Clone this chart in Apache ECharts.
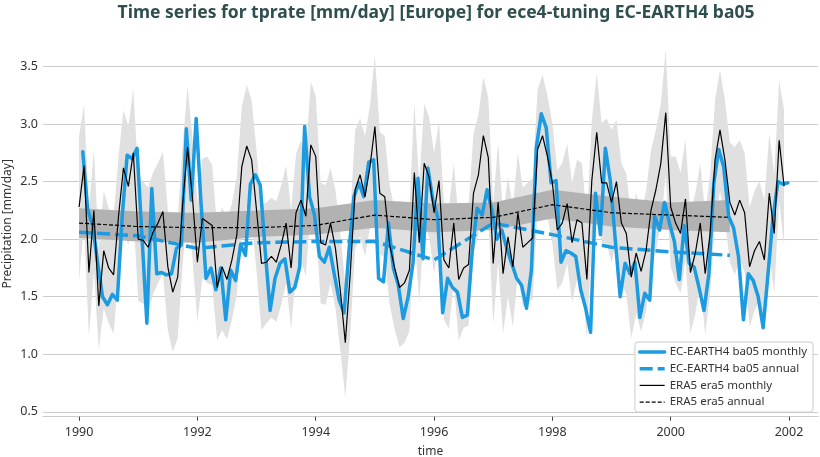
<!DOCTYPE html>
<html><head><meta charset="utf-8">
<script src="https://cdn.jsdelivr.net/npm/echarts@6/dist/echarts.min.js"></script>
<style>html,body{margin:0;padding:0;background:#fff}#c{width:820px;height:457px}</style>
</head><body><div id="c"></div>
<script>
const startYear = 1990;
const xTicks = [1990, 1992, 1994, 1996, 1998, 2000, 2002];
const yTicks = [0.5, 1.0, 1.5, 2.0, 2.5, 3.0, 3.5];
const annualYears = [1990, 1991, 1992, 1993, 1994, 1995, 1996, 1997, 1998, 1999, 2000, 2001];

const modelMonthly = [
  2.76, 2.26, 2.12, 1.80, 1.50, 1.43, 1.52, 1.47, 2.20, 2.73, 2.70, 2.79,
  2.03, 1.27, 2.44, 1.70, 1.71, 1.69, 1.70, 1.92, 1.95, 2.96, 2.34, 3.05,
  2.30, 1.66, 1.75, 1.56, 1.75, 1.30, 1.73, 1.64, 1.95, 1.86, 2.48, 2.56,
  2.47, 1.90, 1.38, 1.66, 1.79, 1.83, 1.54, 1.58, 1.76, 2.98, 2.37, 2.21,
  1.85, 1.80, 1.93, 1.70, 1.47, 1.36, 1.90, 2.37, 2.49, 2.37, 2.67, 2.69,
  1.66, 1.63, 2.14, 1.75, 1.60, 1.31, 1.50, 1.80, 2.53, 1.83, 2.62, 2.34,
  2.19, 1.36, 1.66, 1.58, 1.54, 1.32, 1.34, 1.90, 2.27, 2.21, 2.43, 2.25,
  2.00, 2.08, 1.92, 1.79, 1.66, 1.60, 1.40, 1.73, 2.80, 3.09, 2.97, 2.49,
  2.51, 1.80, 1.90, 1.88, 1.85, 1.56, 1.40, 1.19, 2.40, 2.04, 2.79, 2.51,
  2.00, 1.50, 1.79, 1.70, 1.80, 1.32, 1.53, 1.47, 2.20, 2.08, 2.32, 2.14,
  1.98, 1.65, 2.12, 1.79, 1.76, 1.58, 1.38, 1.70, 2.49, 2.78, 2.63, 2.20,
  2.10, 1.85, 1.30, 1.70, 1.64, 1.50, 1.23, 1.70, 2.19, 2.50, 2.48, 2.49
];
const era5Monthly = [
  2.28, 2.64, 1.71, 2.25, 1.42, 1.90, 1.75, 1.69, 2.20, 2.62, 2.46, 2.75,
  2.00, 1.99, 1.93, 2.06, 2.14, 2.24, 1.76, 1.54, 1.67, 2.30, 2.80, 2.36,
  1.80, 2.18, 2.15, 2.12, 1.58, 1.76, 1.65, 1.82, 2.04, 2.63, 2.81, 2.69,
  2.25, 1.79, 1.80, 1.85, 1.80, 1.95, 2.14, 1.75, 2.23, 2.34, 2.20, 2.82,
  2.72, 1.97, 1.95, 2.14, 1.92, 1.55, 1.10, 1.70, 2.43, 2.56, 2.37, 2.63,
  2.98, 2.40, 2.37, 1.95, 1.75, 1.58, 1.62, 1.73, 2.58, 1.97, 2.66, 2.54,
  2.23, 2.51, 1.82, 1.75, 2.14, 1.65, 1.75, 1.78, 2.40, 2.56, 2.90, 2.71,
  1.79, 2.32, 1.70, 2.02, 1.76, 2.23, 1.93, 1.97, 2.01, 2.78, 2.90, 2.72,
  2.49, 2.08, 2.14, 2.31, 1.97, 2.17, 2.14, 1.65, 2.51, 2.93, 2.49, 2.49,
  2.32, 2.50, 2.14, 2.05, 1.67, 1.88, 1.72, 1.90, 2.25, 2.43, 2.66, 3.10,
  2.28, 2.14, 2.05, 2.35, 1.71, 1.88, 2.14, 1.70, 2.05, 2.69, 2.95, 2.69,
  2.32, 2.21, 2.34, 2.23, 1.76, 1.90, 1.98, 1.82, 2.40, 2.05, 2.86, 2.46
];
const era5MonthlyUpper = [
  2.90, 3.17, 2.25, 2.78, 1.92, 2.42, 2.27, 2.20, 2.72, 3.12, 2.98, 3.31,
  2.55, 2.50, 2.45, 2.58, 2.66, 2.76, 2.26, 2.05, 2.18, 2.82, 3.33, 2.88,
  2.32, 2.70, 2.72, 2.64, 2.10, 2.28, 2.17, 2.31, 2.55, 3.15, 3.34, 3.21,
  2.77, 2.30, 2.32, 2.36, 2.33, 2.47, 2.64, 2.26, 2.74, 2.86, 2.73, 3.37,
  3.25, 2.49, 2.47, 2.62, 2.43, 2.05, 1.60, 2.21, 2.95, 3.05, 2.90, 3.16,
  3.60, 2.93, 2.90, 2.47, 2.26, 2.09, 2.13, 2.25, 3.18, 2.49, 3.18, 3.06,
  2.75, 3.02, 2.33, 2.27, 2.66, 2.17, 2.26, 2.30, 2.92, 3.08, 3.41, 3.23,
  2.31, 2.84, 2.22, 2.54, 2.28, 2.75, 2.45, 2.49, 2.53, 3.30, 3.43, 3.25,
  3.01, 2.60, 2.66, 2.83, 2.49, 2.69, 2.66, 2.17, 3.03, 3.44, 3.01, 3.05,
  2.95, 3.04, 2.66, 2.57, 2.19, 2.40, 2.24, 2.42, 2.77, 2.95, 3.18, 3.65,
  2.72, 2.72, 2.58, 2.87, 2.23, 2.40, 2.66, 2.22, 2.57, 3.21, 3.47, 3.21,
  2.84, 2.80, 2.86, 2.75, 2.28, 2.42, 2.50, 2.34, 2.92, 2.57, 3.38, 3.12
];
const era5MonthlyLower = [
  1.64, 2.12, 1.15, 1.72, 1.04, 1.40, 1.27, 1.18, 1.68, 2.08, 1.95, 2.22,
  1.46, 1.44, 1.36, 1.52, 1.62, 1.70, 1.21, 1.02, 1.14, 1.78, 2.26, 1.83,
  1.28, 1.66, 1.62, 1.60, 1.12, 1.21, 1.13, 1.30, 1.52, 2.10, 2.28, 2.17,
  1.72, 1.21, 1.27, 1.32, 1.28, 1.43, 1.62, 1.22, 1.70, 1.81, 1.68, 2.29,
  2.19, 1.44, 1.43, 1.62, 1.40, 1.03, 0.62, 1.18, 1.91, 2.03, 1.85, 2.10,
  2.42, 1.87, 1.84, 1.43, 1.22, 1.06, 1.10, 1.20, 2.05, 1.45, 2.13, 2.02,
  1.70, 1.99, 1.30, 1.22, 1.62, 1.12, 1.23, 1.25, 1.88, 2.04, 2.37, 2.19,
  1.26, 1.80, 1.18, 1.50, 1.24, 1.70, 1.41, 1.45, 1.48, 2.25, 2.37, 2.20,
  1.96, 1.56, 1.62, 1.79, 1.45, 1.65, 1.61, 1.13, 1.99, 2.40, 1.97, 1.96,
  1.80, 1.97, 1.62, 1.52, 1.14, 1.35, 1.20, 1.37, 1.72, 1.90, 2.13, 2.56,
  1.76, 1.62, 1.53, 1.82, 1.18, 1.35, 1.62, 1.17, 1.53, 2.16, 2.42, 2.17,
  1.80, 1.69, 1.82, 1.71, 1.24, 1.38, 1.46, 1.30, 1.87, 1.53, 2.33, 1.94
];
const modelAnnual = [2.06, 2.03, 1.92, 1.97, 1.98, 1.98, 1.82, 2.14, 2.04, 1.93, 1.89, 1.86];
const era5Annual = [2.14, 2.11, 2.10, 2.10, 2.12, 2.21, 2.17, 2.19, 2.30, 2.23, 2.21, 2.19];
const era5AnnualUpper = [2.27, 2.24, 2.23, 2.25, 2.27, 2.34, 2.31, 2.32, 2.43, 2.37, 2.32, 2.34];
const era5AnnualLower = [2.01, 1.98, 1.97, 2.02, 2.04, 2.10, 2.06, 2.08, 2.18, 2.11, 2.08, 2.06];

const names = ['EC-EARTH4 ba05 monthly', 'EC-EARTH4 ba05 annual', 'ERA5 era5 monthly', 'ERA5 era5 annual'];
const FONT = 'Noto Sans';
const BLUE = '#1c9be0';

const era5Times = era5Monthly.map((v, i) => startYear + i / 12);
const modelTimes = modelMonthly.map((v, i) => startYear + (i + 0.75) / 12);

function band(xs, lo, hi, color, z) {
  return {
    type: 'custom', silent: true, z: z, clip: true,
    data: xs.map((x, i) => [x, lo[i], hi[i]]),
    encode: {x: 0, y: [1, 2]},
    renderItem: function (params, api) {
      if (params.dataIndex !== 0) return null;
      const pts = [];
      for (let i = 0; i < xs.length; i++) pts.push(api.coord([xs[i], hi[i]]));
      for (let i = xs.length - 1; i >= 0; i--) pts.push(api.coord([xs[i], lo[i]]));
      return {type: 'polygon', shape: {points: pts}, style: {fill: color}};
    }
  };
}

const chart = echarts.init(document.getElementById('c'), null, {renderer: 'canvas'});
chart.setOption({
  animation: false,
  backgroundColor: '#fff',
  textStyle: {fontFamily: FONT},
  title: {
    text: 'Time series for tprate [mm/day] [Europe] for ece4-tuning EC-EARTH4 ba05',
    left: 431, textAlign: 'center', top: -1,
    textStyle: {fontFamily: FONT, fontSize: 17.5, fontWeight: 'bold', color: '#2f4f4f'}
  },
  grid: {left: 43, right: 2, top: 31, bottom: 40.3, containLabel: false, outerBoundsMode: 'none'},
  legend: {
    orient: 'vertical', right: 7, top: 342,
    data: [
      {name: names[0], lineStyle: {width: 3.5}},
      {name: names[1], lineStyle: {width: 3.5}},
      {name: names[2], lineStyle: {width: 1.2}},
      {name: names[3], lineStyle: {width: 1.2}}
    ],
    itemWidth: 25, itemHeight: 12, itemGap: 4.7,
    itemStyle: {opacity: 0},
    backgroundColor: 'rgba(255,255,255,0.85)', borderColor: '#cccccc', borderWidth: 1, borderRadius: 3,
    padding: [4, 6, 4, 3],
    textStyle: {fontFamily: FONT, fontSize: 11.5, color: '#333'},
    selectedMode: false
  },
  xAxis: {
    type: 'value', min: 1989.39, max: 2002.49,
    name: 'time', nameLocation: 'middle', nameGap: 29, nameMoveOverlap: false,
    nameTextStyle: {fontFamily: FONT, fontSize: 12, color: '#333'},
    axisLine: {show: true, lineStyle: {color: '#cccccc', width: 1.2}},
    axisTick: {show: true, customValues: xTicks, length: 4, lineStyle: {color: '#444', width: 1}},
    axisLabel: {customValues: xTicks, margin: 9, fontFamily: FONT, fontSize: 12.5, color: '#333', formatter: v => String(Math.round(v))},
    splitLine: {show: false}
  },
  yAxis: {
    type: 'value', min: 0.457, max: 3.81,
    name: 'Precipitation [mm/day]', nameLocation: 'middle', nameGap: 29, nameMoveOverlap: false,
    nameTextStyle: {fontFamily: FONT, fontSize: 12, color: '#333'},
    axisLine: {show: false},
    axisTick: {show: false, customValues: yTicks},
    axisLabel: {customValues: yTicks, margin: 5, fontFamily: FONT, fontSize: 12.5, color: '#333', formatter: v => v.toFixed(1)},
    splitLine: {show: true, lineStyle: {color: '#cccccc', width: 1.2}}
  },
  series: [
    band(era5Times, era5MonthlyLower, era5MonthlyUpper, '#e0e0e0', 1),
    band(annualYears, era5AnnualLower, era5AnnualUpper, '#b2b2b2', 2),
    {
      name: names[0], type: 'line', z: 3, symbol: 'none', showSymbol: false,
      data: modelMonthly.map((v, i) => [modelTimes[i], v]),
      lineStyle: {color: BLUE, width: 3.5, join: 'round', cap: 'round'}, itemStyle: {color: BLUE}
    },
    {
      name: names[1], type: 'line', z: 3, symbol: 'none', showSymbol: false,
      data: modelAnnual.map((v, i) => [annualYears[i], v]),
      lineStyle: {color: BLUE, width: 3.5, type: [13, 5]}, itemStyle: {color: BLUE}
    },
    {
      name: names[2], type: 'line', z: 4, symbol: 'none', showSymbol: false,
      data: era5Monthly.map((v, i) => [era5Times[i], v]),
      lineStyle: {color: '#000', width: 1.2}, itemStyle: {color: '#000'}
    },
    {
      name: names[3], type: 'line', z: 4, symbol: 'none', showSymbol: false,
      data: era5Annual.map((v, i) => [annualYears[i], v]),
      lineStyle: {color: '#000', width: 1.2, type: [4, 2]}, itemStyle: {color: '#000'}
    }
  ]
});
</script>
</body></html>
